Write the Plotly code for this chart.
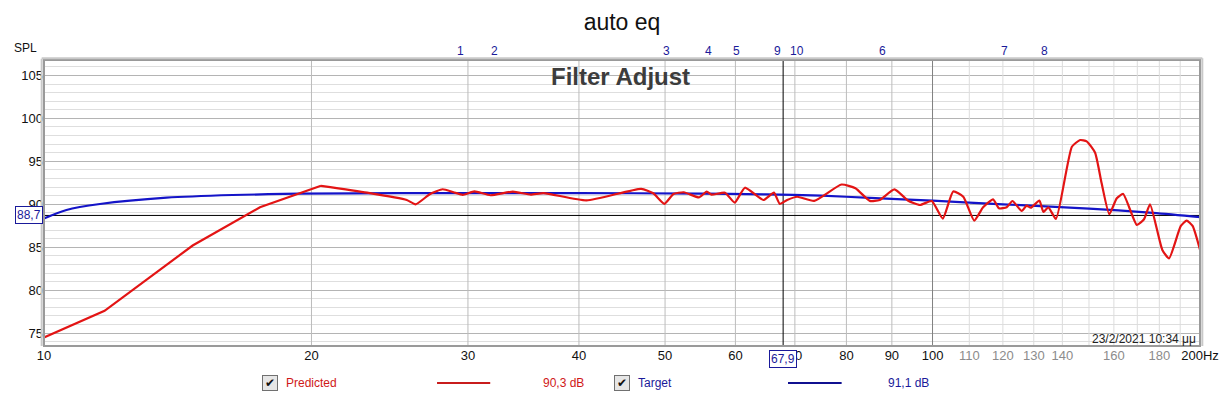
import numpy as np
import plotly.graph_objects as go

# ---------------- data ----------------
pred_freq = [10, 11.7, 14.7, 17.5, 20.5, 23.1, 25.6, 26.2, 27.2, 28.1, 28.9, 29.6, 30.5, 31.8,
             33.7, 35.3, 36.5, 40.8, 47.0, 48.5, 49.9, 51.1, 52.5, 54.6, 55.7, 56.4, 58.4,
             59.9, 61.5, 64.5, 66.3, 67.3, 68.6, 70.4, 73.6, 79.0, 81.9, 85.0, 87.2, 90.6,
             93.9, 96.8, 99.8, 102.7, 105.5, 108.3, 111.4, 114.0, 117.0, 118.8, 121.2, 123.0,
             126.0, 127.6, 129.0, 131.9, 133.3, 135.0, 137.7, 143.5, 146.6, 149.1, 152.4,
             155.0, 158.1, 161.2, 163.9, 169.8, 173.0, 175.7, 181.4, 184.6, 190.3, 193.2,
             196.2, 200]
pred_spl = [74.5, 77.6, 85.2, 89.65, 92.15, 91.35, 90.5, 90.0, 91.2, 91.75, 91.4, 91.1, 91.5,
            91.05, 91.47, 91.12, 91.3, 90.45, 91.8, 91.28, 90.05, 91.2, 91.4, 90.8, 91.47,
            91.12, 91.35, 90.2, 91.93, 90.5, 91.35, 90.05, 90.5, 90.88, 90.4, 92.3, 91.86,
            90.4, 90.5, 91.74, 90.42, 89.92, 90.38, 88.33, 91.5, 90.88, 88.1, 89.65, 90.58,
            89.53, 89.65, 90.38, 89.22, 89.84, 89.6, 90.42, 89.1, 89.65, 88.29, 96.7, 97.48,
            97.33, 96.0, 92.44, 88.84, 90.7, 91.2, 87.6, 88.26, 90.0, 84.69, 83.7, 87.48,
            88.1, 87.48, 84.7]

target_freq = [10, 10.6, 11.56, 13.74, 16.3, 19.4, 25, 40, 55, 65, 75, 85, 100, 120, 150, 177, 200]
target_spl = [88.35, 89.34, 90.03, 90.77, 91.08, 91.23, 91.3, 91.3, 91.25, 91.15, 91.0, 90.75,
              90.42, 90.0, 89.5, 89.0, 88.5]

marker_labels = ["1", "2", "3", "4", "5", "9", "10", "6", "7", "8"]
marker_freq = [29.4, 32.1, 50.2, 55.9, 60.1, 67.0, 70.4, 87.8, 120.4, 133.5]

tick_vals = [10, 20, 30, 40, 50, 60, 70, 80, 90, 100, 110, 120, 130, 140, 150, 160, 170, 180, 190, 200]
tick_text = ["10", "20", "30", "40", "50", "60", "70", "80", "90", "100",
             "110", "120", "130", "140", "", "160", "", "180", "", "200Hz"]
major_grid = [20, 30, 40, 50, 60, 70, 80, 90]
dark_grid = [100]
light_grid = [110, 120, 130, 140, 150, 160, 170, 180, 190]

cursor_freq = 67.9
cursor_spl = 88.7
pred_level = "90,3 dB"
target_level = "91,1 dB"

Y_MIN, Y_MAX = 73.5, 106.8
X_MIN, X_MAX = 10, 200
LINEAR_UNTIL = 5  # first points of the prediction are joined by straight segments

FONT = "Liberation Sans, Arial, sans-serif"
RED = "#e31414"
BLUE = "#1414c8"
NAVY = "#1a1a9a"

fig = go.Figure()


def vlines(freqs, color):
    xs, ys = [], []
    for f in freqs:
        xs += [f, f, None]
        ys += [Y_MIN, Y_MAX, None]
    fig.add_trace(go.Scatter(x=xs, y=ys, mode="lines", line=dict(color=color, width=1),
                             hoverinfo="skip", showlegend=False))


vlines(light_grid, "#dcdcdc")
vlines(major_grid, "#bcbcbc")
vlines(dark_grid, "#808080")

# cursors
fig.add_trace(go.Scatter(x=[X_MIN, X_MAX], y=[cursor_spl, cursor_spl], mode="lines",
                         line=dict(color="black", width=1), hoverinfo="skip", showlegend=False))
fig.add_trace(go.Scatter(x=[cursor_freq, cursor_freq], y=[Y_MIN, Y_MAX], mode="lines",
                         line=dict(color="black", width=1), hoverinfo="skip", showlegend=False))

# curves
fig.add_trace(go.Scatter(x=target_freq, y=target_spl, mode="lines",
                         line=dict(color=BLUE, width=2.2, shape="spline", smoothing=0.8),
                         hoverinfo="skip", showlegend=False))
fig.add_trace(go.Scatter(x=pred_freq[:LINEAR_UNTIL], y=pred_spl[:LINEAR_UNTIL], mode="lines",
                         line=dict(color=RED, width=2.2),
                         hoverinfo="skip", showlegend=False))
fig.add_trace(go.Scatter(x=pred_freq[LINEAR_UNTIL - 1:], y=pred_spl[LINEAR_UNTIL - 1:], mode="lines",
                         line=dict(color=RED, width=2.2, shape="spline", smoothing=0.5),
                         hoverinfo="skip", showlegend=False))

tick_text_html = []
for v, t in zip(tick_vals, tick_text):
    if 100 < v < 200 and t:
        tick_text_html.append(f"<span style='color:#8c8c8c'>{t}</span>")
    else:
        tick_text_html.append(t)

fig.update_xaxes(type="log", range=[np.log10(X_MIN), np.log10(X_MAX)],
                 tickvals=tick_vals, ticktext=tick_text_html, showgrid=False,
                 zeroline=False, showline=False, ticks="", automargin=False,
                 tickfont=dict(family=FONT, size=13, color="#111111"))
fig.update_yaxes(range=[Y_MIN, Y_MAX], tickvals=[75, 80, 85, 90, 95, 100, 105],
                 showgrid=True, gridcolor="#b4b4b4", gridwidth=1, automargin=False,
                 minor=dict(dtick=1, tick0=0, showgrid=True, gridcolor="#dedede", gridwidth=1),
                 zeroline=False, showline=False, ticks="",
                 tickfont=dict(family=FONT, size=13, color="#111111"))

ann = []
# marker numbers
for lab, f in zip(marker_labels, marker_freq):
    ann.append(dict(x=np.log10(f), xref="x", y=1.031, yref="paper", text=lab, showarrow=False,
                    font=dict(family=FONT, size=12, color=NAVY), xanchor="center", yanchor="middle"))
ann += [
    dict(x=-0.0156, xref="paper", y=1.042, yref="paper", text="SPL", showarrow=False,
         font=dict(family=FONT, size=12, color="#111111"), xanchor="center", yanchor="middle"),
    dict(x=0.499, xref="paper", y=0.944, yref="paper", text="<b>Filter Adjust</b>", showarrow=False,
         font=dict(family=FONT, size=24, color="#3c3c3c"), xanchor="center", yanchor="middle"),
    dict(x=0.998, xref="paper", y=0.0245, yref="paper", text="23/2/2021 10:34 μμ", showarrow=False,
         font=dict(family=FONT, size=12, color="#222222"), xanchor="right", yanchor="middle"),
    dict(x=-0.001, xref="paper", y=cursor_spl, yref="y", text="88,7", showarrow=False,
         font=dict(family=FONT, size=12, color=NAVY), xanchor="right", yanchor="middle",
         bordercolor=NAVY, borderwidth=1, borderpad=1, bgcolor="white"),
    dict(x=np.log10(cursor_freq), xref="x", y=-0.045, yref="paper", text="67,9", showarrow=False,
         font=dict(family=FONT, size=12, color=NAVY), xanchor="center", yanchor="middle",
         bordercolor=NAVY, borderwidth=1, borderpad=1, bgcolor="white"),
]

# custom legend
LEG_Y = -0.129
def checkbox(x):
    ann.append(dict(x=x, xref="paper", y=LEG_Y, yref="paper", text="✔", showarrow=False,
                    font=dict(family="DejaVu Sans", size=12, color="#111111"),
                    xanchor="center", yanchor="middle", bordercolor="#707070", borderwidth=1,
                    borderpad=0, bgcolor="#e6e6e6", width=14, height=14))

checkbox(0.1955)
ann.append(dict(x=0.2076, xref="paper", y=LEG_Y, yref="paper", text="Predicted", showarrow=False,
                font=dict(family=FONT, size=12, color="#d01818"), xanchor="left", yanchor="middle"))
ann.append(dict(x=0.449, xref="paper", y=LEG_Y, yref="paper", text=pred_level, showarrow=False,
                font=dict(family=FONT, size=12, color="#d01818"), xanchor="center", yanchor="middle"))
checkbox(0.5)
ann.append(dict(x=0.512, xref="paper", y=LEG_Y, yref="paper", text="Target", showarrow=False,
                font=dict(family=FONT, size=12, color=NAVY), xanchor="left", yanchor="middle"))
ann.append(dict(x=0.748, xref="paper", y=LEG_Y, yref="paper", text=target_level, showarrow=False,
                font=dict(family=FONT, size=12, color=NAVY), xanchor="center", yanchor="middle"))

shapes = [
    dict(type="line", xref="paper", yref="paper", x0=0.340, x1=0.386, y0=LEG_Y, y1=LEG_Y,
         line=dict(color="#c81c1c", width=2)),
    dict(type="line", xref="paper", yref="paper", x0=0.6436, x1=0.690, y0=LEG_Y, y1=LEG_Y,
         line=dict(color="#101090", width=2)),
    dict(type="rect", xref="paper", yref="paper", x0=0, x1=1, y0=0, y1=1,
         line=dict(color="#9a9a9a", width=2)),
    dict(type="line", xref="paper", yref="paper", x0=-0.002, x1=-0.002, y0=0, y1=1.004,
         line=dict(color="#c8c8c8", width=2)),
    dict(type="line", xref="paper", yref="paper", x0=-0.002, x1=1.002, y0=1.006, y1=1.006,
         line=dict(color="#c8c8c8", width=2)),
    dict(type="line", xref="paper", yref="paper", x0=1.002, x1=1.002, y0=0, y1=1.006,
         line=dict(color="#c8c8c8", width=2)),
]

fig.update_layout(
    width=1222, height=398,
    margin=dict(l=44, r=22, t=60, b=52, autoexpand=False),
    paper_bgcolor="white", plot_bgcolor="white",
    title=dict(text="auto eq", x=0.5, xref="paper", xanchor="center", y=0.945, yanchor="middle",
               font=dict(family=FONT, size=23, color="#111111")),
    annotations=ann, shapes=shapes, showlegend=False, hovermode=False,
)

fig.write_html("out.html", config={"displayModeBar": False},
               post_script="document.body.style.margin='0';document.body.style.overflow='hidden';")
